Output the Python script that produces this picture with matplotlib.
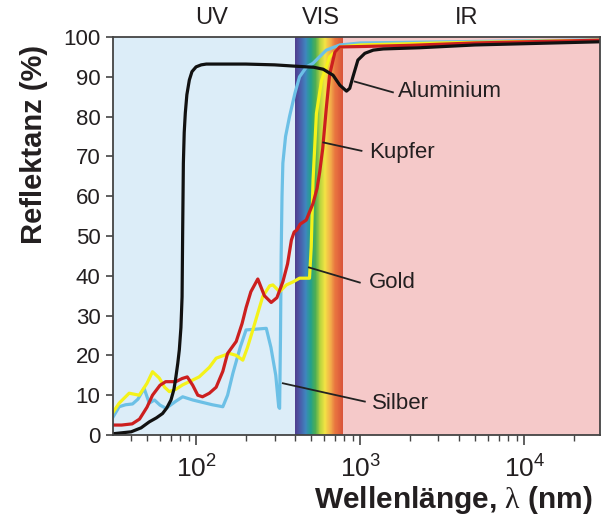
import numpy as np
import matplotlib
matplotlib.use("Agg")
import matplotlib.pyplot as plt
from matplotlib.colors import LinearSegmentedColormap
from matplotlib.ticker import FixedLocator, FuncFormatter, LogLocator, NullFormatter

plt.rcParams['font.family'] = ['Liberation Sans', 'DejaVu Sans']
plt.rcParams['mathtext.fontset'] = 'custom'
plt.rcParams['mathtext.rm'] = 'Liberation Sans'
plt.rcParams['mathtext.sf'] = 'Liberation Serif'
plt.rcParams['mathtext.it'] = 'Liberation Sans:italic'
plt.rcParams['mathtext.bf'] = 'Liberation Sans:bold'

# ---------------- data (wavelength in nm, reflectance in %) ----------------
al_wl = [30.8, 40, 46, 51.6, 57, 62.2, 66, 70, 73, 75, 77, 78.7, 80.5, 81.8, 82.5,
         83.3, 84.3, 85.6, 87.5, 90.6, 94, 99.6, 107, 115, 200, 300, 426, 520, 594,
         682, 750, 824, 862, 902, 967, 1066, 1200, 1380, 2300, 5000, 29000]
al_r = [0.3, 0.8, 1.8, 3.3, 4.3, 5.4, 6.8, 8.8, 11.5, 14.6, 18.0, 21.4, 27.0, 34.7,
        51.5, 68.3, 76.0, 80.9, 85.5, 89.2, 91.3, 92.5, 93.0, 93.2, 93.2, 93.0, 92.6,
        92.4, 91.9, 90.4, 87.9, 86.4, 87.1, 90.0, 94.2, 95.9, 96.7, 97.0, 97.3, 98.0,
        98.8]

cu_wl = [30.8, 35, 40.6, 45, 50, 54, 60, 65, 75, 82, 88, 95, 102, 109, 120, 132,
         145, 155, 175, 190, 201, 215, 237, 260, 286, 310, 337, 360, 380, 395, 410,
         430, 468, 515, 545, 565, 590, 620, 650, 700, 750, 1000, 2000, 5000, 29000]
cu_r = [2.5, 2.5, 2.8, 4.0, 7.0, 10.0, 12.5, 13.4, 13.4, 14.2, 14.6, 12.5, 10.0, 9.6,
        10.5, 12.0, 16.0, 20.5, 23.5, 28.0, 32.0, 36.0, 39.2, 35.0, 33.3, 34.5, 38.5,
        43.0, 49.0, 51.0, 51.5, 53.0, 54.0, 58.2, 62.0, 66.0, 72.0, 82.0, 90.5, 96.2,
        97.5, 97.6, 97.9, 98.5, 99.2]

au_wl = [30.8, 33.8, 38.9, 44.8, 50, 54, 59.4, 64, 68.4, 75, 82.5, 104, 120, 132,
         159, 175, 192, 205, 221, 254, 280, 293, 322, 354, 390, 426, 490, 502, 515,
         540, 580, 650, 750, 1000, 3000, 29000]
au_r = [5.5, 8.0, 10.5, 10.0, 13.0, 15.9, 14.3, 12.0, 10.9, 11.5, 12.6, 14.6, 17.0,
        19.3, 20.5, 20.0, 18.8, 22.0, 26.4, 34.8, 37.5, 37.7, 36.0, 37.7, 38.5, 39.4,
        39.4, 47.3, 64.0, 80.8, 89.0, 95.0, 97.5, 98.0, 98.5, 99.2]

ag_wl = [30.8, 33.8, 37, 40.8, 44, 48, 51.6, 55.5, 60, 65.3, 75, 82.5, 95, 104, 125,
         145, 155, 167, 185, 201, 267, 285, 305, 318, 322, 326, 329, 333, 337, 350,
         370, 400, 426, 470, 515, 620, 750, 1000, 29000]
ag_r = [4.3, 7.1, 7.6, 7.8, 9.0, 11.7, 8.0, 8.8, 7.5, 6.7, 8.5, 9.6, 8.8, 8.4, 7.6,
        7.1, 10.0, 15.5, 22.0, 26.4, 26.8, 22.0, 15.0, 7.0, 6.7, 25.0, 45.0, 60.0, 68.3,
        75.0, 80.0, 86.0, 90.0, 92.5, 93.4, 96.7, 98.0, 98.5, 99.3]

# labels: (text, line start (wl, R), line end (wl, R), text pos (wl, R))
labels = ["Aluminium", "Kupfer", "Gold", "Silber"]
line_start = [(925, 88.8), (595, 73.5), (486, 42.1), (337, 13.0)]
line_end = [(1581, 86.1), (1017, 71.4), (993, 38.3), (1066, 8.4)]
text_pos = [(1694, 86.3), (1127, 70.9), (1131, 38.3), (1175, 8.0)]

regions = ["UV", "VIS", "IR"]
region_x = [123.5, 574, 4480]

uv_range = (31, 400)
vis_range = (400, 780)
ir_range = (780, 29000)

# ---------------- figure ----------------
fig = plt.figure(figsize=(6.05, 5.2), dpi=100)
ax = fig.add_axes([113/605, 1-435/520, (600-113)/605, (435-37)/520])
ax.set_xscale('log')
ax.set_xlim(31, 29000)
ax.set_ylim(0, 100)

ax.axvspan(*uv_range, color='#dcedf8', zorder=0, lw=0)
ax.axvspan(*ir_range, color='#f5c9c9', zorder=0, lw=0)

spec = LinearSegmentedColormap.from_list('spec', [
    (0.00, '#4f3f8f'), (0.10, '#4a5aa8'), (0.22, '#3f86bf'), (0.33, '#23a08a'),
    (0.43, '#4fae52'), (0.53, '#b8d43e'), (0.63, '#f3e444'), (0.74, '#f2b04a'),
    (0.85, '#e8743f'), (1.00, '#d9553a')])
N = 150
xe = np.geomspace(vis_range[0], vis_range[1], N + 1)
ye = np.array([0, 100])
C = np.linspace(0, 1, N).reshape(1, N)
ax.pcolormesh(xe, ye, C, cmap=spec, shading='flat', zorder=0.5, lw=0, antialiased=False)

lw = 2.3
ax.plot(ag_wl, ag_r, color='#6cc0e6', lw=lw, zorder=2, solid_joinstyle='round')
ax.plot(au_wl, au_r, color='#f4f21a', lw=lw, zorder=2.1, solid_joinstyle='round')
ax.plot(cu_wl, cu_r, color='#cc1f1f', lw=lw, zorder=2.2, solid_joinstyle='round')
ax.plot(al_wl, al_r, color='#111111', lw=lw, zorder=2.3, solid_joinstyle='round')

for t, s, e, p in zip(labels, line_start, line_end, text_pos):
    ax.plot([s[0], e[0]], [s[1], e[1]], color='#222222', lw=1.3, zorder=3)
    ax.text(p[0], p[1], t, fontsize=16, color='#231f20', ha='left', va='center', zorder=4)

for t, x in zip(regions, region_x):
    ax.text(x, 1.048, t, transform=ax.get_xaxis_transform(), fontsize=17,
            color='#231f20', ha='center', va='center')

# axes styling
for sp in ax.spines.values():
    sp.set_color('#444444')
    sp.set_linewidth(1.3)
    sp.set_zorder(5)

ax.set_yticks(np.arange(0, 101, 10))
ax.tick_params(axis='y', direction='out', length=5, width=1.2, color='#444444',
               labelsize=16, pad=4, labelcolor='#231f20')
ax.xaxis.set_major_locator(FixedLocator([1e2, 1e3, 1e4]))
ax.xaxis.set_major_formatter(FuncFormatter(lambda v, p: r'$10^{%d}$' % round(np.log10(v))))
ax.xaxis.set_minor_locator(LogLocator(base=10, subs=np.arange(2, 10), numticks=20))
ax.xaxis.set_minor_formatter(NullFormatter())
ax.tick_params(axis='x', which='major', direction='out', length=7, width=1.2,
               color='#444444', labelsize=19, pad=8, labelcolor='#231f20')
ax.tick_params(axis='x', which='minor', direction='out', length=4, width=1.0,
               color='#444444')

fig.text(593/605, 1-500/520, r'Wellenlänge, $\mathsf{\lambda}$ (nm)', fontsize=21.5,
         fontweight='bold', ha='right', va='center', color='#231f20')
fig.text(34/605, 1-144/520, 'Reflektanz (%)', fontsize=21, fontweight='bold',
         rotation=90, ha='center', va='center', color='#231f20')

fig.savefig('out.png', dpi=100)
